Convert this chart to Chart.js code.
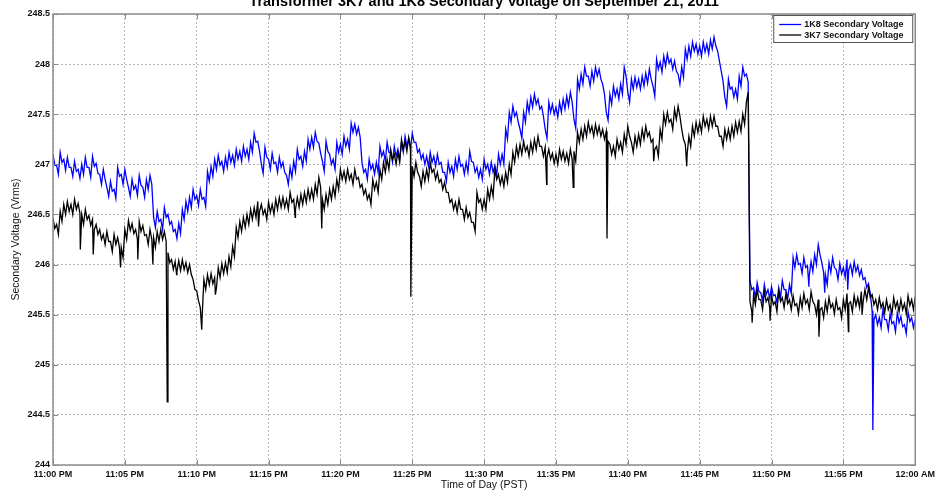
<!DOCTYPE html>
<html>
<head>
<meta charset="utf-8">
<script src="https://cdn.jsdelivr.net/npm/chart.js@4/dist/chart.umd.min.js"></script>
<style>
  html, body { margin: 0; padding: 0; background: #ffffff; }
  canvas { display: block; }
</style>
</head>
<body>
<canvas id="voltChart" width="939" height="492"></canvas>
<script>
// Minutes after 11:00 PM; one reading every 7.5 seconds.
const sampleStepMin = 0.125;

const timeTickLabels = ['11:00 PM', '11:05 PM', '11:10 PM', '11:15 PM', '11:20 PM', '11:25 PM',
  '11:30 PM', '11:35 PM', '11:40 PM', '11:45 PM', '11:50 PM', '11:55 PM', '12:00 AM'];
const voltTickLabels = ['244', '244.5', '245', '245.5', '246', '246.5', '247', '247.5', '248', '248.5'];

const seriesNames = ['1K8 Secondary Voltage', '3K7 Secondary Voltage'];

// 1K8 secondary voltage (Vrms), eight readings per minute (one row per minute)
const volts1K8 = [
  247.10, 246.99, 246.99, 246.90, 247.12, 247.02, 247.05, 246.94,
  247.07, 246.97, 246.97, 246.88, 247.03, 246.93, 246.95, 246.86,
  247.00, 246.90, 247.07, 246.97, 246.97, 246.87, 247.08, 246.98,
  247.01, 246.91, 246.90, 246.80, 246.95, 246.85, 246.77, 246.68,
  246.83, 246.73, 246.75, 246.66, 246.97, 246.88, 246.90, 246.80,
  246.95, 246.85, 246.77, 246.68, 246.85, 246.75, 246.79, 246.69,
  246.89, 246.79, 246.77, 246.67, 246.85, 246.75, 246.89, 246.80,
  246.47, 246.37, 246.53, 246.43, 246.45, 246.35, 246.57, 246.47,
  246.50, 246.40, 246.43, 246.33, 246.35, 246.26, 246.41, 246.31,
  246.55, 246.45, 246.63, 246.53, 246.67, 246.57, 246.75, 246.65,
  246.69, 246.59, 246.75, 246.65, 246.67, 246.58, 246.93, 246.83,
  246.98, 246.88, 247.05, 246.95, 247.09, 246.99, 247.03, 246.93,
  247.07, 246.97, 247.12, 247.02, 247.09, 246.99, 247.15, 247.05,
  247.13, 247.03, 247.18, 247.08, 247.15, 247.05, 247.22, 247.12,
  247.31, 247.22, 247.23, 247.13, 247.00, 246.91, 247.17, 247.07,
  247.05, 246.95, 247.11, 247.01, 247.02, 246.92, 247.07, 246.97,
  247.02, 246.92, 246.89, 246.80, 246.97, 246.87, 247.03, 246.93,
  247.15, 247.05, 247.08, 246.98, 247.13, 247.03, 247.25, 247.15,
  247.27, 247.17, 247.32, 247.23, 247.21, 247.11, 247.03, 246.93,
  247.23, 247.13, 247.10, 247.00, 247.05, 246.95, 247.22, 247.12,
  247.20, 247.10, 247.28, 247.18, 247.25, 247.15, 247.41, 247.32,
  247.40, 247.30, 247.37, 247.27, 247.02, 246.92, 246.95, 246.85,
  247.05, 246.95, 247.00, 246.90, 247.02, 246.92, 247.18, 247.08,
  247.13, 247.03, 247.22, 247.12, 247.12, 247.02, 247.18, 247.08,
  247.15, 247.05, 247.22, 247.12, 247.28, 247.18, 247.25, 247.15,
  247.31, 247.22, 247.22, 247.12, 247.15, 247.05, 247.10, 247.00,
  247.08, 246.98, 247.12, 247.02, 247.08, 246.98, 247.10, 247.00,
  247.02, 246.92, 246.92, 246.83, 247.02, 246.92, 246.98, 246.88,
  247.05, 246.95, 247.08, 246.98, 247.00, 246.90, 247.02, 246.92,
  247.13, 247.03, 247.02, 246.92, 246.97, 246.87, 246.95, 246.85,
  247.05, 246.95, 247.00, 246.90, 247.02, 246.92, 246.99, 246.89,
  247.10, 247.00, 247.10, 247.00, 247.35, 247.25, 247.52, 247.42,
  247.58, 247.48, 247.52, 247.42, 247.35, 247.26, 247.52, 247.42,
  247.62, 247.52, 247.67, 247.57, 247.70, 247.60, 247.65, 247.55,
  247.58, 247.48, 247.35, 247.26, 247.62, 247.52, 247.60, 247.50,
  247.57, 247.47, 247.62, 247.52, 247.65, 247.55, 247.68, 247.58,
  247.72, 247.62, 247.45, 247.36, 247.85, 247.75, 247.90, 247.80,
  247.97, 247.88, 247.88, 247.78, 247.93, 247.83, 247.97, 247.88,
  247.95, 247.85, 247.80, 247.70, 247.52, 247.44, 247.70, 247.60,
  247.78, 247.68, 247.75, 247.65, 247.80, 247.70, 247.97, 247.88,
  247.72, 247.62, 247.85, 247.75, 247.87, 247.77, 247.85, 247.75,
  247.88, 247.78, 247.91, 247.81, 247.95, 247.85, 247.78, 247.68,
  248.05, 247.95, 248.02, 247.92, 248.08, 247.98, 248.10, 248.01,
  248.05, 247.95, 248.03, 247.93, 247.90, 247.80, 247.97, 247.87,
  248.15, 248.05, 248.18, 248.08, 248.22, 248.13, 248.20, 248.10,
  248.18, 248.08, 248.22, 248.12, 248.20, 248.10, 248.24, 248.15,
  248.27, 248.18, 248.13, 248.03, 247.93, 247.83, 247.67, 247.58,
  247.85, 247.75, 247.77, 247.67, 247.75, 247.65, 247.88, 247.78,
  247.97, 247.88, 247.90, 247.82, 245.84, 245.75, 245.77, 245.67,
  245.82, 245.73, 245.72, 245.64, 245.80, 245.70, 245.75, 245.66,
  245.78, 245.69, 245.70, 245.62, 245.77, 245.67, 245.84, 245.75,
  245.75, 245.66, 245.80, 245.71, 246.07, 245.97, 246.10, 246.00,
  246.01, 245.91, 246.07, 245.97, 245.99, 245.89, 246.03, 245.93,
  246.10, 246.00, 246.20, 246.10, 246.02, 245.92, 245.90, 245.80,
  246.02, 245.92, 246.07, 245.97, 245.95, 245.85, 246.01, 245.91,
  245.97, 245.87, 246.05, 245.95, 246.00, 245.90, 246.03, 245.93,
  245.99, 245.89, 245.95, 245.85, 245.87, 245.77, 245.81, 245.71,
  245.54, 245.45, 245.50, 245.40, 245.47, 245.37, 245.55, 245.45,
  245.45, 245.35, 245.51, 245.41, 245.43, 245.33, 245.52, 245.42,
  245.48, 245.38, 245.40, 245.31, 245.53, 245.43, 245.47, 245.37,
  245.45
];

// 3K7 secondary voltage (Vrms), eight readings per minute (one row per minute)
const volts3K7 = [
  246.46, 246.36, 246.40, 246.30, 246.53, 246.43, 246.60, 246.50,
  246.63, 246.53, 246.60, 246.50, 246.65, 246.55, 246.61, 246.51,
  246.50, 246.40, 246.55, 246.45, 246.49, 246.39, 246.45, 246.35,
  246.40, 246.30, 246.35, 246.25, 246.30, 246.20, 246.33, 246.23,
  246.23, 246.13, 246.30, 246.20, 246.27, 246.17, 246.17, 246.07,
  246.35, 246.25, 246.44, 246.34, 246.41, 246.31, 246.35, 246.25,
  246.43, 246.33, 246.39, 246.29, 246.30, 246.20, 246.35, 246.25,
  246.27, 246.17, 246.33, 246.23, 246.35, 246.25, 246.33, 246.23,
  246.12, 246.02, 246.05, 245.95, 246.03, 245.93, 246.04, 245.94,
  246.05, 245.95, 246.02, 245.92, 246.00, 245.90, 245.85, 245.75,
  245.74, 245.64, 245.57, 245.47, 245.85, 245.75, 245.90, 245.80,
  245.91, 245.81, 245.87, 245.77, 245.97, 245.87, 246.01, 245.91,
  246.02, 245.92, 246.08, 245.98, 246.18, 246.08, 246.37, 246.27,
  246.43, 246.33, 246.47, 246.37, 246.50, 246.40, 246.55, 246.45,
  246.57, 246.47, 246.63, 246.53, 246.60, 246.50, 246.55, 246.45,
  246.62, 246.52, 246.60, 246.50, 246.65, 246.55, 246.67, 246.57,
  246.67, 246.57, 246.65, 246.55, 246.72, 246.62, 246.65, 246.55,
  246.67, 246.57, 246.70, 246.60, 246.72, 246.62, 246.75, 246.65,
  246.75, 246.65, 246.80, 246.70, 246.87, 246.77, 246.65, 246.55,
  246.70, 246.60, 246.75, 246.65, 246.78, 246.68, 246.85, 246.75,
  246.95, 246.85, 246.93, 246.83, 246.95, 246.85, 246.90, 246.80,
  246.95, 246.85, 246.87, 246.77, 246.80, 246.70, 246.75, 246.65,
  246.70, 246.60, 246.85, 246.75, 246.82, 246.72, 246.95, 246.85,
  247.02, 246.92, 247.05, 246.95, 247.15, 247.05, 247.10, 247.00,
  247.12, 247.02, 247.25, 247.15, 247.23, 247.13, 247.27, 247.18,
  246.98, 246.88, 247.02, 246.92, 246.88, 246.78, 246.93, 246.83,
  246.95, 246.85, 247.02, 246.92, 246.95, 246.85, 246.92, 246.82,
  246.85, 246.75, 246.82, 246.72, 246.72, 246.62, 246.65, 246.55,
  246.62, 246.52, 246.65, 246.55, 246.55, 246.45, 246.57, 246.47,
  246.52, 246.42, 246.42, 246.33, 246.72, 246.62, 246.65, 246.55,
  246.65, 246.55, 246.75, 246.65, 246.78, 246.68, 246.95, 246.85,
  246.90, 246.80, 246.88, 246.78, 246.92, 246.82, 247.00, 246.90,
  247.12, 247.02, 247.18, 247.08, 247.20, 247.10, 247.23, 247.13,
  247.18, 247.08, 247.22, 247.12, 247.25, 247.15, 247.28, 247.18,
  247.18, 247.08, 247.17, 247.07, 247.15, 247.05, 247.11, 247.01,
  247.10, 247.00, 247.15, 247.05, 247.13, 247.03, 247.11, 247.01,
  247.15, 247.05, 247.13, 247.03, 247.32, 247.22, 247.35, 247.25,
  247.38, 247.28, 247.42, 247.32, 247.38, 247.28, 247.40, 247.30,
  247.38, 247.28, 247.35, 247.25, 247.33, 247.23, 247.20, 247.10,
  247.18, 247.08, 247.25, 247.15, 247.22, 247.12, 247.30, 247.20,
  247.38, 247.28, 247.22, 247.12, 247.28, 247.18, 247.30, 247.20,
  247.35, 247.25, 247.38, 247.28, 247.32, 247.22, 247.25, 247.15,
  247.18, 247.08, 247.35, 247.25, 247.50, 247.40, 247.52, 247.42,
  247.45, 247.35, 247.55, 247.45, 247.58, 247.48, 247.35, 247.25,
  247.20, 247.10, 247.28, 247.18, 247.38, 247.28, 247.42, 247.32,
  247.42, 247.32, 247.48, 247.38, 247.45, 247.35, 247.48, 247.38,
  247.48, 247.38, 247.38, 247.28, 247.28, 247.18, 247.35, 247.25,
  247.35, 247.25, 247.38, 247.28, 247.42, 247.32, 247.43, 247.33,
  247.50, 247.40, 247.62, 247.72, 245.63, 245.53, 245.70, 245.60,
  245.75, 245.65, 245.65, 245.55, 245.73, 245.63, 245.67, 245.57,
  245.70, 245.60, 245.63, 245.53, 245.73, 245.63, 245.67, 245.57,
  245.71, 245.61, 245.65, 245.55, 245.69, 245.59, 245.61, 245.51,
  245.67, 245.57, 245.71, 245.61, 245.65, 245.55, 245.73, 245.63,
  245.60, 245.50, 245.65, 245.55, 245.57, 245.47, 245.63, 245.53,
  245.67, 245.57, 245.61, 245.51, 245.65, 245.55, 245.57, 245.47,
  245.65, 245.55, 245.71, 245.61, 245.63, 245.53, 245.69, 245.59,
  245.67, 245.57, 245.73, 245.63, 245.75, 245.65, 245.77, 245.67,
  245.70, 245.60, 245.65, 245.55, 245.67, 245.57, 245.62, 245.52,
  245.65, 245.55, 245.60, 245.50, 245.67, 245.57, 245.63, 245.53,
  245.65, 245.55, 245.61, 245.51, 245.69, 245.59, 245.65, 245.55,
  245.68
];

// Short sags caught between the regular readings: [minute, Vrms]
const sags1K8 = [[52.6, 245.78], [53.7, 245.72], [55.3, 245.75], [57.05, 244.35]];
const sags3K7 = [
  [1.9, 246.15], [2.8, 246.10], [4.7, 245.97], [5.9, 246.05], [6.95, 246.00],
  [7.95, 244.63], [8.6, 245.90], [10.35, 245.35], [11.3, 245.70], [14.3, 246.38],
  [16.85, 246.47], [18.7, 246.36], [24.9, 245.68], [34.35, 246.80], [36.2, 246.77],
  [38.55, 246.26], [41.8, 247.03], [44.1, 246.98], [48.65, 245.42], [49.9, 245.44],
  [53.3, 245.28], [55.35, 245.33], [56.3, 245.50]
];

function buildPoints(readings, sags) {
  const pts = readings.map((v, i) => ({ x: i * sampleStepMin, y: v }));
  sags.forEach(([m, v]) => pts.push({ x: m, y: v }));
  return pts.sort((a, b) => a.x - b.x);
}

const FONT = "'Liberation Sans', Arial, Helvetica, sans-serif";
Chart.defaults.font.family = FONT;

const decorations = {
  id: 'decorations',
  afterDatasetsDraw(chart) {
    const { ctx, chartArea: a, scales: { x, y } } = chart;
    ctx.save();
    // inward tick marks on all four sides
    ctx.strokeStyle = '#8a8a8a';
    ctx.lineWidth = 1;
    ctx.beginPath();
    x.ticks.forEach(t => {
      const px = Math.round(x.getPixelForValue(t.value)) + 0.5;
      ctx.moveTo(px, a.bottom); ctx.lineTo(px, a.bottom - 5);
      ctx.moveTo(px, a.top); ctx.lineTo(px, a.top + 5);
    });
    y.ticks.forEach(t => {
      const py = Math.round(y.getPixelForValue(t.value)) + 0.5;
      ctx.moveTo(a.left, py); ctx.lineTo(a.left + 5, py);
      ctx.moveTo(a.right, py); ctx.lineTo(a.right - 5, py);
    });
    ctx.stroke();
    // axes box
    ctx.strokeStyle = '#8c8c8c';
    ctx.lineWidth = 1.5;
    ctx.strokeRect(a.left, a.top, a.right - a.left, a.bottom - a.top);

    // legend box in the upper right corner
    const lx = a.right - 142, ly = a.top + 1, lw = 139, lh = 27;
    ctx.fillStyle = '#ffffff';
    ctx.fillRect(lx, ly, lw, lh);
    ctx.strokeStyle = '#555555';
    ctx.lineWidth = 1;
    ctx.strokeRect(lx + 0.5, ly + 0.5, lw, lh);
    ctx.font = 'bold 9px ' + FONT;
    ctx.textBaseline = 'middle';
    ctx.textAlign = 'left';
    chart.data.datasets.forEach((ds, i) => {
      const ry = ly + 9.5 + i * 10.5;
      ctx.strokeStyle = ds.borderColor;
      ctx.lineWidth = 1.3;
      ctx.beginPath();
      ctx.moveTo(lx + 6, ry); ctx.lineTo(lx + 28, ry);
      ctx.stroke();
      ctx.fillStyle = '#111111';
      ctx.fillText(ds.label, lx + 31, ry + 0.5);
    });
    ctx.restore();
  },
  afterDraw(chart) {
    const { ctx, chartArea: a } = chart;
    const cx = (a.left + a.right) / 2;
    ctx.save();
    ctx.fillStyle = '#000000';
    ctx.textAlign = 'center';
    ctx.textBaseline = 'alphabetic';
    ctx.font = 'bold 14.5px ' + FONT;
    ctx.fillText('Transformer 3K7 and 1K8 Secondary Voltage on September 21, 2011', cx, 5.5);
    ctx.font = '10.5px ' + FONT;
    ctx.textBaseline = 'middle';
    ctx.fillStyle = '#111111';
    ctx.fillText('Time of Day (PST)', cx, 485);
    ctx.translate(16, (a.top + a.bottom) / 2);
    ctx.rotate(-Math.PI / 2);
    ctx.fillText('Secondary Voltage (Vrms)', 0, 0);
    ctx.restore();
  }
};

const gridOpts = { color: '#b4b4b4', lineWidth: 1, drawTicks: false };
const borderOpts = { display: false, dash: [2, 2] };
const tickFont = { size: 9, weight: 'bold' };

new Chart(document.getElementById('voltChart'), {
  type: 'line',
  data: {
    datasets: [
      {
        label: seriesNames[0],
        data: buildPoints(volts1K8, sags1K8),
        borderColor: '#0000ff',
        borderWidth: 1.3,
        pointRadius: 0,
        tension: 0,
        order: 1
      },
      {
        label: seriesNames[1],
        data: buildPoints(volts3K7, sags3K7),
        borderColor: '#000000',
        borderWidth: 1.3,
        pointRadius: 0,
        tension: 0,
        order: 0
      }
    ]
  },
  options: {
    responsive: false,
    animation: false,
    events: [],
    layout: { padding: { top: 14, right: 22, left: 0, bottom: 0 } },
    plugins: {
      legend: { display: false },
      title: { display: false },
      tooltip: { enabled: false }
    },
    scales: {
      x: {
        type: 'linear',
        min: 0,
        max: 60,
        grid: gridOpts,
        border: borderOpts,
        afterFit(scale) { scale.height = 27; },
        ticks: {
          stepSize: 5,
          autoSkip: false,
          maxRotation: 0,
          padding: 4,
          color: '#111111',
          font: tickFont,
          callback: (v) => timeTickLabels[Math.round(v / 5)]
        }
      },
      y: {
        type: 'linear',
        min: 244,
        max: 248.5,
        grid: gridOpts,
        border: borderOpts,
        afterFit(scale) { scale.width = 53; },
        ticks: {
          stepSize: 0.5,
          autoSkip: false,
          padding: 3,
          color: '#111111',
          font: tickFont,
          callback: (v) => voltTickLabels[Math.round((v - 244) / 0.5)]
        }
      }
    }
  },
  plugins: [decorations]
});
</script>
</body>
</html>
